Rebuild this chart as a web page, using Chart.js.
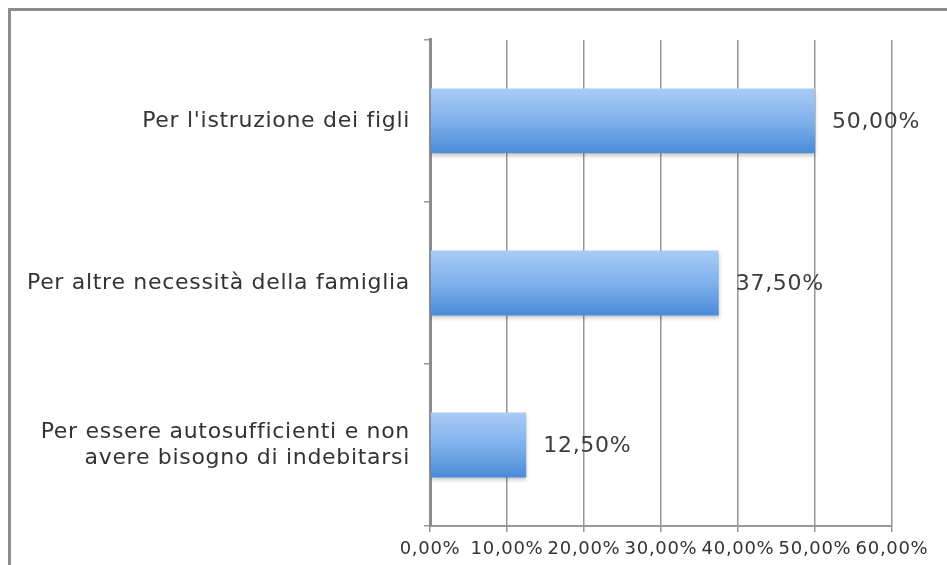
<!DOCTYPE html>
<html>
<head>
<meta charset="utf-8">
<script src="https://cdn.jsdelivr.net/npm/chart.js@4/dist/chart.umd.min.js"></script>
<style>
  html, body { margin: 0; padding: 0; background: #fff; overflow: hidden; }
  #frame {
    position: absolute; left: 8px; top: 8px; width: 1200px; height: 800px;
    border: 3px solid #8c8c8c; box-sizing: border-box;
  }
  #wrap { position: absolute; left: 0; top: 0; width: 947px; height: 565px; }
</style>
</head>
<body>
<div id="frame"></div>
<div id="wrap"><canvas id="chart" width="947" height="565"></canvas></div>
<script>
const categories = [
  "Per l'istruzione dei figli",
  "Per altre necessità della famiglia",
  ["Per essere autosufficienti e non", "avere bisogno di indebitarsi"],
];
const shares = [50, 37.5, 12.5];
const valueLabels = ["50,00%", "37,50%", "12,50%"];
const tickLabels = ["0,00%", "10,00%", "20,00%", "30,00%", "40,00%", "50,00%", "60,00%"];

const FONT = "'DejaVu Sans', sans-serif";
const BAR_PERCENT = 0.4;

/*************************************************************
 * Bar gradient (per bar, from the category scale)
 *************************************************************/
const barGradient = (context) => {
  const chart = context.chart;
  const yScale = chart.scales.y;
  if (!chart.chartArea || !yScale) {
    return "#7fb1ec";
  }
  const center = yScale.getPixelForValue(context.dataIndex);
  const band = Math.abs(yScale.getPixelForValue(1) - yScale.getPixelForValue(0));
  const half = (band * BAR_PERCENT) / 2;
  const g = chart.ctx.createLinearGradient(0, center - half, 0, center + half);
  g.addColorStop(0, "#a9ccf6");
  g.addColorStop(0.5, "#7fb1ec");
  g.addColorStop(1, "#4a8bd7");
  return g;
};

/*************************************************************
 * Slightly wider text (the original is stretched)
 *************************************************************/
const wideText = {
  id: "wideText",
  beforeUpdate(chart) {
    chart.ctx.letterSpacing = "0.7px";
  },
  beforeDraw(chart) {
    chart.ctx.letterSpacing = "0.7px";
  },
};

/*************************************************************
 * Soft shadow under bars
 *************************************************************/
const barShadow = {
  id: "barShadow",
  beforeDatasetsDraw(chart) {
    const ctx = chart.ctx;
    ctx.save();
    ctx.shadowColor = "rgba(0, 0, 0, 0.22)";
    ctx.shadowBlur = 4;
    ctx.shadowOffsetY = 3;
  },
  afterDatasetsDraw(chart) {
    chart.ctx.restore();
  },
};

/*************************************************************
 * Value labels
 *************************************************************/
const valueText = {
  id: "valueText",
  afterDatasetsDraw(chart) {
    const ctx = chart.ctx;
    ctx.save();
    ctx.font = "22px " + FONT;
    ctx.fillStyle = "#3c3c3c";
    ctx.textAlign = "left";
    ctx.textBaseline = "middle";
    chart.getDatasetMeta(0).data.forEach((bar, i) => {
      ctx.fillText(valueLabels[i], bar.x + 17, bar.y + 1);
    });
    ctx.restore();
  },
};

new Chart(document.getElementById("chart").getContext("2d"), {
  type: "bar",
  data: {
    labels: categories,
    datasets: [
      {
        data: shares,
        backgroundColor: barGradient,
        borderWidth: 0,
        barPercentage: BAR_PERCENT,
        categoryPercentage: 1,
      },
    ],
  },
  options: {
    indexAxis: "y",
    responsive: false,
    animation: false,
    events: [],
    layout: { padding: { top: 38, right: 55, bottom: 0, left: 0 } },
    plugins: { legend: { display: false }, tooltip: { enabled: false } },
    scales: {
      x: {
        min: 0,
        max: 60,
        ticks: {
          stepSize: 10,
          padding: 7,
          color: "#333",
          font: { family: FONT, size: 18 },
          maxRotation: 0,
          callback: (v, i) => tickLabels[i],
        },
        grid: { color: "#969696", lineWidth: 1.5, tickLength: 6 },
        border: { color: "#999", width: 2 },
        afterFit: (scale) => { scale.height = 39; },
      },
      y: {
        ticks: {
          padding: 14,
          color: "#333",
          font: { family: FONT, size: 22, lineHeight: 1.18 },
        },
        grid: {
          offset: true,
          drawOnChartArea: false,
          tickLength: 6,
          color: "#999",
          lineWidth: 1.5,
        },
        border: { color: "#8c8c8c", width: 3 },
        afterFit: (scale) => { scale.width = 430; },
      },
    },
  },
  plugins: [wideText, barShadow, valueText],
});
</script>
</body>
</html>
